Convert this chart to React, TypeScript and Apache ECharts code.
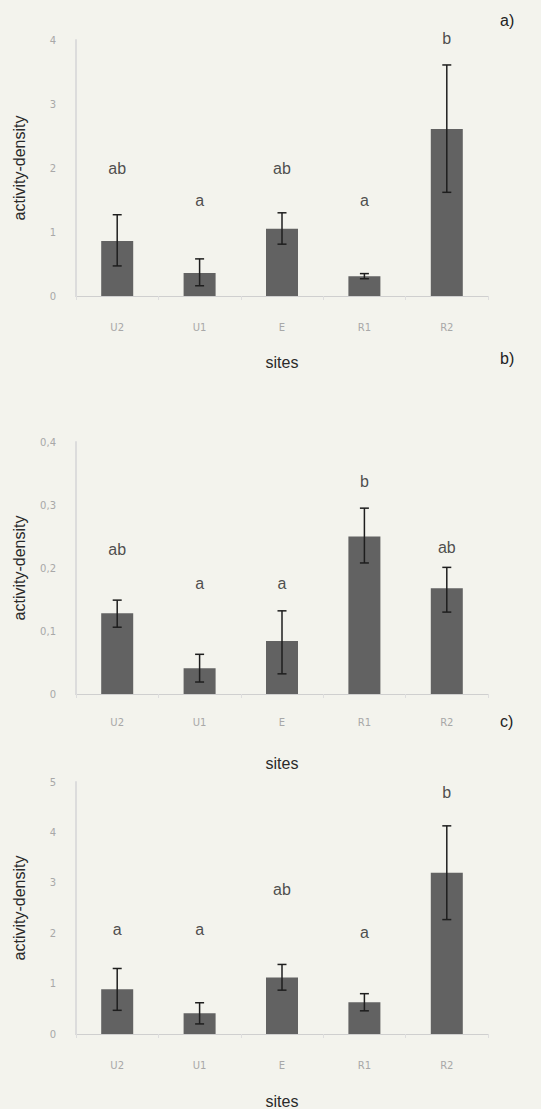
import React, { useEffect, useRef } from "react";
import * as echarts from "echarts";

const sites = ["U2", "U1", "E", "R1", "R2"];

// panel a
const meanA = [0.86, 0.36, 1.05, 0.31, 2.61];
const lowA = [0.47, 0.16, 0.81, 0.27, 1.62];
const highA = [1.27, 0.58, 1.3, 0.35, 3.61];
const lettersA = ["ab", "a", "ab", "a", "b"];
const letterYA = [2.0, 1.5, 2.0, 1.5, 4.03];

// panel b
const meanB = [0.128, 0.041, 0.084, 0.25, 0.168];
const lowB = [0.106, 0.019, 0.032, 0.208, 0.13];
const highB = [0.149, 0.063, 0.132, 0.295, 0.201];
const lettersB = ["ab", "a", "a", "b", "ab"];
const letterYB = [0.229, 0.176, 0.176, 0.338, 0.232];

// panel c
const meanC = [0.89, 0.41, 1.12, 0.63, 3.2];
const lowC = [0.47, 0.2, 0.87, 0.46, 2.27];
const highC = [1.3, 0.62, 1.38, 0.8, 4.13];
const lettersC = ["a", "a", "ab", "a", "b"];
const letterYC = [2.07, 2.07, 2.87, 2.02, 4.8];

const yTicksA = { max: 4, interval: 1 };
const yTicksB = { max: 0.4, interval: 0.1 };
const yTicksC = { max: 5, interval: 1 };

const panelLabels = ["a)", "b)", "c)"];

export default function App() {
  const ref = useRef<HTMLDivElement>(null);
  useEffect(() => {
    document.body.style.margin = "0";
    const chart = echarts.init(ref.current!, null, { renderer: "svg" });
    const grids = [
      { left: 76, width: 412, top: 40, height: 256, outerBoundsMode: "none" },
      { left: 76, width: 412, top: 442, height: 252, outerBoundsMode: "none" },
      { left: 76, width: 412, top: 782, height: 252, outerBoundsMode: "none" },
    ];
    const xMargins = [26, 23, 26];
    const xNameGaps = [58, 61, 59];
    const yCfg = [yTicksA, yTicksB, yTicksC];
    const means = [meanA, meanB, meanC];
    const lows = [lowA, lowB, lowC];
    const highs = [highA, highB, highC];
    const letters = [lettersA, lettersB, lettersC];
    const letterYs = [letterYA, letterYB, letterYC];

    const xAxis = grids.map((_, i) => ({
      type: "category",
      gridIndex: i,
      data: sites,
      name: "sites",
      nameLocation: "middle",
      nameGap: xNameGaps[i],
      nameTextStyle: { fontFamily: "Liberation Sans", fontSize: 16, color: "#2a2a2a" },
      axisLine: { lineStyle: { color: "#cfcfcf", width: 1 } },
      axisTick: { show: true, lineStyle: { color: "#dedede" }, length: 4 },
      axisLabel: { margin: xMargins[i], fontSize: 10, color: "#a8a8a8", fontFamily: "DejaVu Sans" },
    }));
    const yAxis = grids.map((_, i) => ({
      type: "value",
      gridIndex: i,
      min: 0,
      max: yCfg[i].max,
      interval: yCfg[i].interval,
      name: "activity-density",
      nameLocation: "middle",
      nameRotate: 90,
      nameGap: 49,
      nameTextStyle: { fontFamily: "Liberation Sans", fontSize: 16, color: "#2a2a2a" },
      axisLine: { show: true, lineStyle: { color: "#dcdcdc", width: 2 } },
      axisTick: { show: false },
      splitLine: { show: false },
      axisLabel: {
        margin: 20,
        fontSize: 10,
        color: "#a8a8a8",
        fontFamily: "DejaVu Sans",
        formatter: (v: number) => String(Math.round(v * 10) / 10).replace(".", ","),
      },
    }));

    const series: any[] = [];
    grids.forEach((_, i) => {
      series.push({
        type: "bar",
        xAxisIndex: i,
        yAxisIndex: i,
        data: means[i],
        barWidth: 32,
        itemStyle: { color: "#626262" },
      });
      series.push({
        type: "custom",
        xAxisIndex: i,
        yAxisIndex: i,
        clip: false,
        data: sites.map((_, k) => [k, lows[i][k], highs[i][k]]),
        renderItem: (params: any, api: any) => {
          const x = api.value(0);
          const lo = api.coord([x, api.value(1)]);
          const hi = api.coord([x, api.value(2)]);
          const hw = 4.5;
          const style = { stroke: "#1e1e1e", lineWidth: 1.5 };
          return {
            type: "group",
            children: [
              { type: "line", shape: { x1: lo[0], y1: lo[1], x2: hi[0], y2: hi[1] }, style },
              { type: "line", shape: { x1: hi[0] - hw, y1: hi[1], x2: hi[0] + hw, y2: hi[1] }, style },
              { type: "line", shape: { x1: lo[0] - hw, y1: lo[1], x2: lo[0] + hw, y2: lo[1] }, style },
            ],
          };
        },
        z: 5,
      });
      series.push({
        type: "scatter",
        xAxisIndex: i,
        yAxisIndex: i,
        clip: false,
        symbolSize: 1,
        itemStyle: { color: "rgba(0,0,0,0)" },
        data: sites.map((_, k) => ({
          value: [k, letterYs[i][k]],
          label: {
            show: true,
            position: "inside",
            formatter: letters[i][k],
            fontFamily: "Liberation Sans",
            fontSize: 16,
            color: "#222",
          },
        })),
        z: 6,
      });
    });

    chart.setOption({
      animation: false,
      backgroundColor: "#f3f3ed",
      grid: grids,
      xAxis,
      yAxis,
      series,
      graphic: [
        { type: "text", left: 500, top: 12, style: { text: panelLabels[0], font: "16px Liberation Sans", fill: "#222" } },
        { type: "text", left: 500, top: 350, style: { text: panelLabels[1], font: "16px Liberation Sans", fill: "#222" } },
        { type: "text", left: 500, top: 713, style: { text: panelLabels[2], font: "16px Liberation Sans", fill: "#222" } },
      ],
    });
    return () => chart.dispose();
  }, []);
  return <div ref={ref} style={{ position: "absolute", left: 0, top: 0, width: 541, height: 1109 }} />;
}
